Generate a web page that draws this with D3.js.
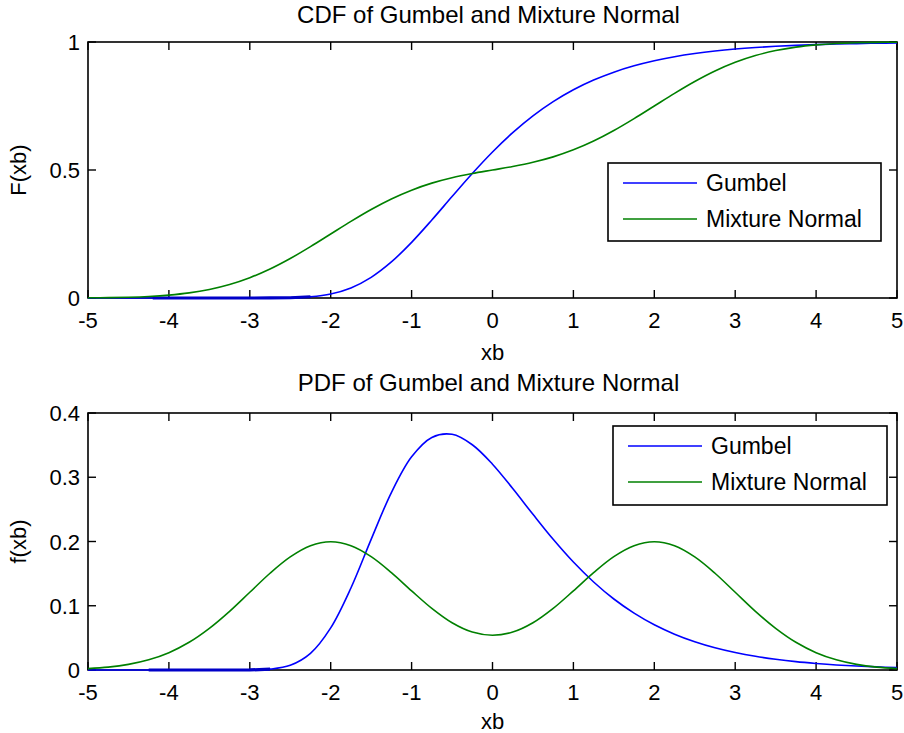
<!DOCTYPE html>
<html><head><meta charset="utf-8">
<script src="https://cdn.jsdelivr.net/npm/d3@7"></script>
<style>
body{margin:0;background:#fff;}
text{font-family:"Liberation Sans",Arial,sans-serif;fill:#000;}
</style></head>
<body><svg id="c" width="904" height="733"></svg>
<script>
// x grid
const xs = [-5,-4.75,-4.5,-4.25,-4,-3.75,-3.5,-3.25,-3,-2.75,-2.5,-2.25,-2,-1.75,-1.5,-1.25,-1,-0.75,-0.5,-0.25,0,0.25,0.5,0.75,1,1.25,1.5,1.75,2,2.25,2.5,2.75,3,3.25,3.5,3.75,4,4.25,4.5,4.75,5];
const gumbelCdf = [0,0,0,0,0,0,0,0,0.00001,0.00015,0.00107,0.00486,0.0158,0.0395,0.0808,0.1409,0.2174,0.3046,0.3962,0.4863,0.5704,0.6458,0.7114,0.7670,0.8134,0.8514,0.8822,0.9070,0.9268,0.9425,0.9549,0.9647,0.9724,0.9784,0.9831,0.9869,0.9898,0.9920,0.9938,0.9952,0.9962];
const mixCdf = [0.0007,0.0015,0.0031,0.0061,0.0114,0.0200,0.0334,0.0528,0.0793,0.1133,0.1543,0.2006,0.25,0.2994,0.3459,0.3870,0.4213,0.4487,0.4697,0.4861,0.5,0.5139,0.5303,0.5513,0.5787,0.6130,0.6541,0.7006,0.75,0.7994,0.8457,0.8867,0.9207,0.9472,0.9666,0.9800,0.9886,0.9939,0.9969,0.9985,0.9993];
const gumbelPdf = [0,0,0,0,0,0,0,0.00001,0.0001,0.0013,0.0073,0.0259,0.0655,0.1276,0.2033,0.2762,0.3318,0.3620,0.3668,0.3506,0.3203,0.2824,0.2423,0.2034,0.1680,0.1370,0.1105,0.0885,0.0704,0.0558,0.0440,0.0346,0.0272,0.0213,0.0167,0.0130,0.0102,0.0079,0.0062,0.0048,0.0038];
const mixPdf = [0.0022,0.0045,0.0088,0.0159,0.0270,0.0431,0.0648,0.0913,0.1210,0.1506,0.1760,0.1934,0.1995,0.1935,0.1765,0.1516,0.1232,0.0959,0.0735,0.0590,0.0540,0.0590,0.0735,0.0959,0.1232,0.1516,0.1765,0.1935,0.1995,0.1934,0.1760,0.1506,0.1210,0.0913,0.0648,0.0431,0.0270,0.0159,0.0088,0.0045,0.0022];
const xTicks = [-5,-4,-3,-2,-1,0,1,2,3,4,5];
const cdfTicks = [0,0.5,1];
const pdfTicks = [0,0.1,0.2,0.3,0.4];
const seriesNames = ["Gumbel","Mixture Normal"];
const titles = ["CDF of Gumbel and Mixture Normal","PDF of Gumbel and Mixture Normal"];
const yLabels = ["F(xb)","f(xb)"];
const xLabel = "xb";
// x range where the Gumbel trace is drawn many times over (looks heavier)
const cdfDenseRange = [-4.2,-2.2];
const pdfDenseRange = [-4.3,-2.65];

const colors = ["#0000ff","#008000"];
const svg = d3.select("#c");

function panel(o){
  const x = d3.scaleLinear().domain([-5,5]).range([o.left,o.right]);
  const y = d3.scaleLinear().domain(o.ydom).range([o.bottom,o.top]);
  const g = svg.append("g");
  const tl = 8;
  const line = d3.line().x(d=>x(d[0])).y(d=>y(Math.max(0,d[1]))).curve(d3.curveCatmullRom.alpha(0.5));
  const gData = xs.map((v,i)=>[v,o.g[i]]);
  const mData = xs.map((v,i)=>[v,o.m[i]]);
  g.append("rect").attr("x",o.left).attr("y",o.top).attr("width",o.right-o.left).attr("height",o.bottom-o.top)
    .attr("fill","none").attr("stroke","#000").attr("stroke-width",1.6);
  xTicks.forEach(t=>{
    g.append("line").attr("x1",x(t)).attr("x2",x(t)).attr("y1",o.bottom).attr("y2",o.bottom-tl).attr("stroke","#000").attr("stroke-width",1.4);
    g.append("line").attr("x1",x(t)).attr("x2",x(t)).attr("y1",o.top).attr("y2",o.top+tl).attr("stroke","#000").attr("stroke-width",1.4);
    g.append("text").attr("x",x(t)).attr("y",o.bottom+30).attr("text-anchor","middle").attr("font-size",22).text(t);
  });
  o.yt.forEach(t=>{
    g.append("line").attr("x1",o.left).attr("x2",o.left+tl).attr("y1",y(t)).attr("y2",y(t)).attr("stroke","#000").attr("stroke-width",1.4);
    g.append("line").attr("x1",o.right).attr("x2",o.right-tl).attr("y1",y(t)).attr("y2",y(t)).attr("stroke","#000").attr("stroke-width",1.4);
    g.append("text").attr("x",o.left-8).attr("y",y(t)+8).attr("text-anchor","end").attr("font-size",22).text(t);
  });
  g.append("path").attr("d",line(gData)).attr("fill","none").attr("stroke",colors[0]).attr("stroke-width",1.6);
  const dense = gData.filter(d=>d[0]>=o.dense[0]-0.05&&d[0]<=o.dense[1]+0.05).map(d=>[Math.max(o.dense[0],Math.min(o.dense[1],d[0])),d[1]]);
  g.append("path").attr("d",d3.line().x(d=>x(d[0])).y(d=>y(d[1]))(dense))
    .attr("fill","none").attr("stroke","#0000c8").attr("stroke-width",3.2);
  g.append("path").attr("d",line(mData)).attr("fill","none").attr("stroke",colors[1]).attr("stroke-width",1.6);
  g.append("text").attr("x",(o.left+o.right)/2-4).attr("y",o.titleY).attr("text-anchor","middle").attr("font-size",24).text(o.title);
  g.append("text").attr("x",(o.left+o.right)/2).attr("y",o.bottom+o.xlabDy).attr("text-anchor","middle").attr("font-size",22).text(xLabel);
  g.append("text").attr("transform",`translate(26,${(o.top+o.bottom)/2}) rotate(-90)`).attr("text-anchor","middle").attr("font-size",22).text(o.ylab);
  const L = o.leg;
  g.append("rect").attr("x",L.x).attr("y",L.y).attr("width",L.w).attr("height",L.h).attr("fill","#fff").attr("stroke","#000").attr("stroke-width",1.6);
  seriesNames.forEach((n,i)=>{
    const yy = L.y + 20 + i*36;
    g.append("line").attr("x1",L.x+15).attr("x2",L.x+89).attr("y1",yy).attr("y2",yy).attr("stroke",colors[i]).attr("stroke-width",1.6);
    g.append("text").attr("x",L.x+98).attr("y",yy+8).attr("font-size",23).text(n);
  });
}

panel({left:88,right:897,top:42,bottom:298,ydom:[0,1],yt:cdfTicks,g:gumbelCdf,m:mixCdf,dense:cdfDenseRange,
  title:titles[0],titleY:23,xlabDy:62,ylab:yLabels[0],leg:{x:608,y:163,w:273,h:78}});
panel({left:88,right:897,top:413,bottom:670,ydom:[0,0.4],yt:pdfTicks,g:gumbelPdf,m:mixPdf,dense:pdfDenseRange,
  title:titles[1],titleY:391,xlabDy:59,ylab:yLabels[1],leg:{x:613,y:426,w:274,h:79}});
</script></body></html>
